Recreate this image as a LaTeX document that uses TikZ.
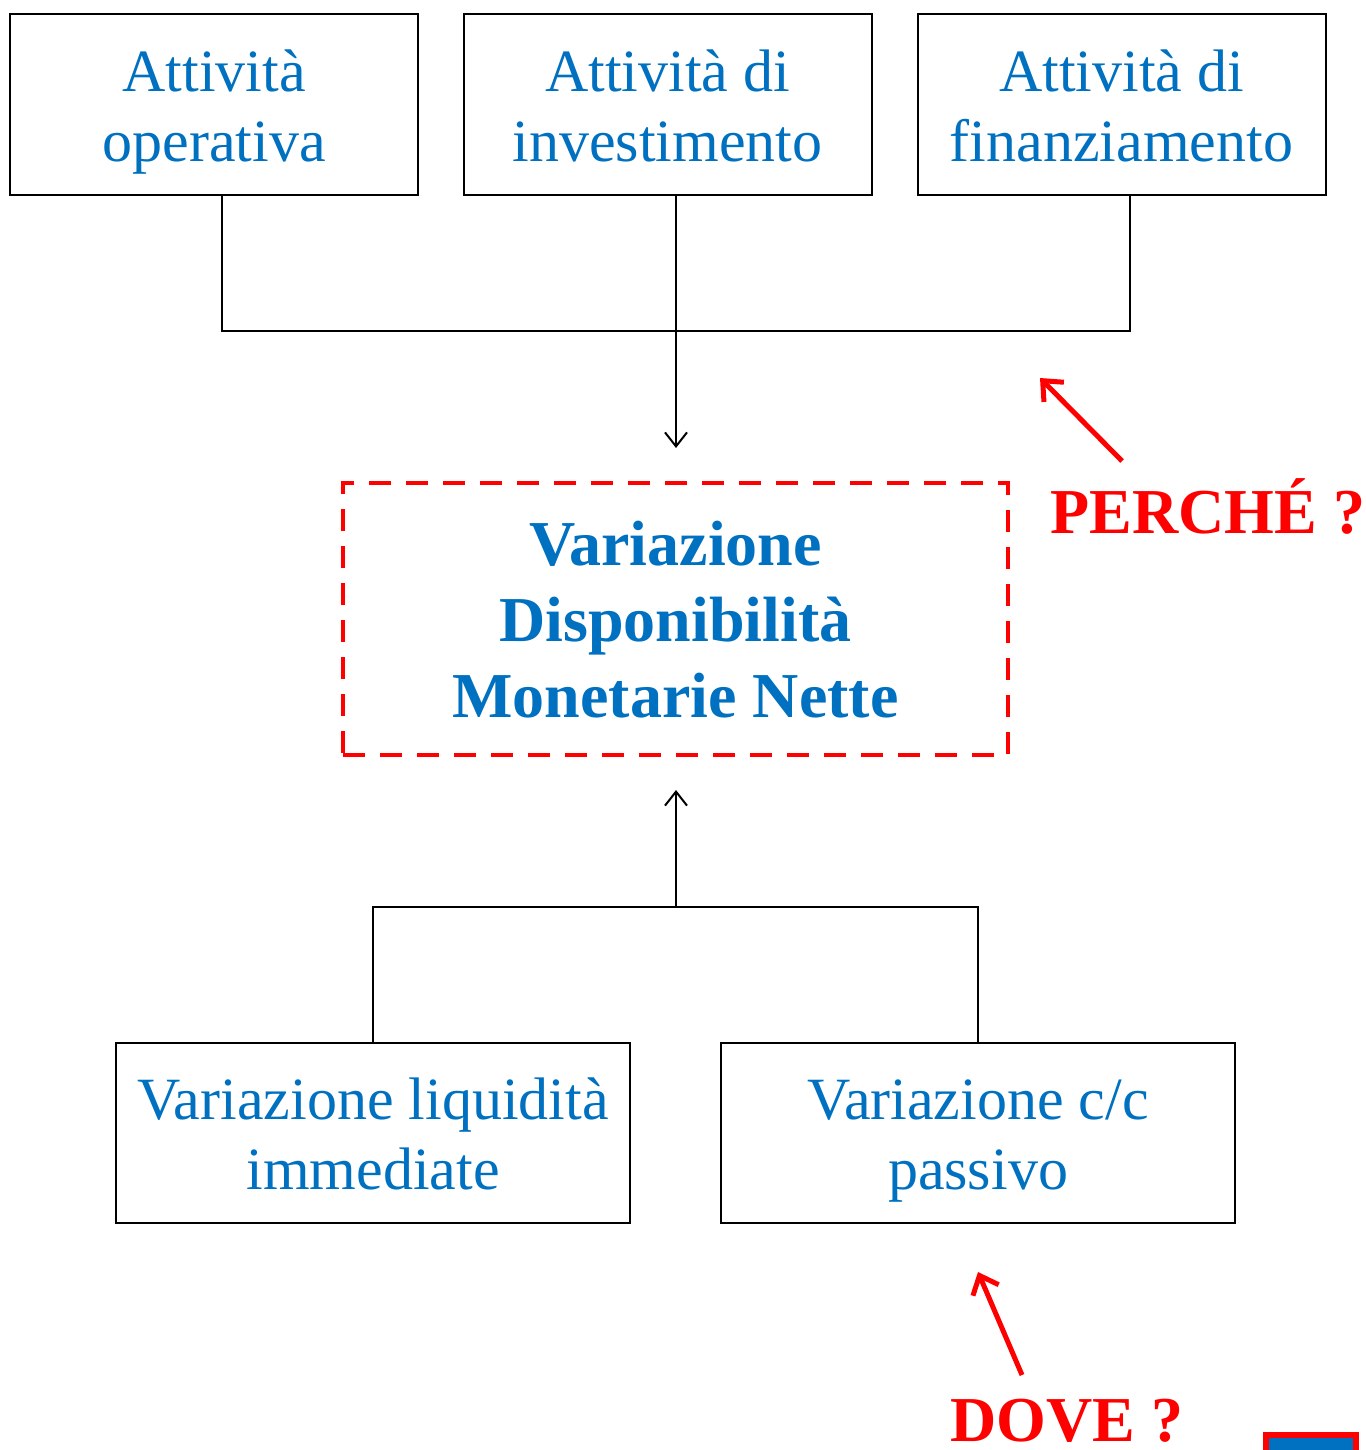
\documentclass[tikz,border=0pt]{standalone}
\usepackage{fontspec}
\setmainfont{Liberation Serif}
\usetikzlibrary{arrows.meta,calc}
\definecolor{tblue}{RGB}{0,112,192}
\definecolor{tred}{RGB}{255,0,0}
\newcommand{\topstrut}{\rule{0pt}{\dimexpr\ht\strutbox+8pt\relax}}
\tikzset{
  box/.style={draw=black, line width=1pt, inner sep=0pt, align=center, text=tblue,
    font=\fontsize{30}{35}\selectfont},
  topbox/.style={box, minimum width=204pt, minimum height=90.5pt},
  botbox/.style={box, minimum width=257pt, minimum height=90pt},
  conn/.style={draw=black, line width=1pt},
  connarrow/.style={conn, -{Straight Barb[length=7pt,width=11pt,line width=1pt]}},
  redarrow/.style={draw=tred, line width=2.5pt, -{Straight Barb[length=8pt,width=14pt,line width=2.5pt]}},
  redtext/.style={text=tred, font=\fontsize{32}{38}\selectfont\bfseries, inner sep=0pt, anchor=base west},
  mainbox/.style={draw=tred, line width=2pt, dash pattern=on 11pt off 7.5pt, inner sep=0pt,
    minimum width=332.5pt, minimum height=136pt, align=center, text=tblue,
    font=\fontsize{32}{38}\selectfont\bfseries}
}
\begin{document}
\begin{tikzpicture}[x=0.5pt,y=-0.5pt]
\useasboundingbox (0,0) rectangle (1365,1450);
\clip (0,0) rectangle (1365,1450);
% top boxes
\node[topbox] (b1) at (214,104.5) {\topstrut Attività\\operativa\strut};
\node[topbox] (b2) at (667.5,104.5) {\topstrut Attività di\\investimento\strut};
\node[topbox] (b3) at (1121.5,104.5) {\topstrut Attività di\\finanziamento\strut};
\coordinate (jt) at (676,331);
\coordinate (tt) at (676,448);
\draw[conn] ([xshift=4pt]b1.south) |- (jt);
\draw[conn] ([xshift=4pt]b3.south) |- (jt);
\draw[conn] ([xshift=4.25pt]b2.south) -- (jt);
\draw[connarrow] (jt) -- (tt);
% main box
\node[mainbox] (m) at (675.5,619) {\rule{0pt}{\dimexpr\ht\strutbox+7pt\relax}Variazione\\Disponibilità\\Monetarie Nette\strut};
% bottom boxes
\node[botbox] (b4) at (373,1133) {\rule{0pt}{\dimexpr\ht\strutbox+7pt\relax}Variazione liquidità\\immediate\strut};
\node[botbox] (b5) at (978,1133) {\rule{0pt}{\dimexpr\ht\strutbox+7pt\relax}Variazione c/c\\passivo\strut};
\coordinate (jb) at (676,907);
\coordinate (tb) at (676,790);
\draw[conn] (b4.north) |- (jb);
\draw[conn] (b5.north) |- (jb);
\draw[connarrow] (jb) -- (tb);
% red labels
\node[redtext] (perche) at (1050,533) {PERCHÉ ?};
\node[redtext] (dove) at (950,1441) {DOVE ?};
\coordinate (pa) at (1122,461);
\coordinate (pb) at (1040,378);
\draw[redarrow] (pa) -- (pb);
\coordinate (da) at (1022,1375);
\coordinate (db) at (978,1272);
\draw[redarrow] (da) -- (db);
% corner badge
\draw[draw=tred, line width=3pt, fill=tblue] (1266,1435) rectangle (1356,1470);
\end{tikzpicture}
\end{document}
